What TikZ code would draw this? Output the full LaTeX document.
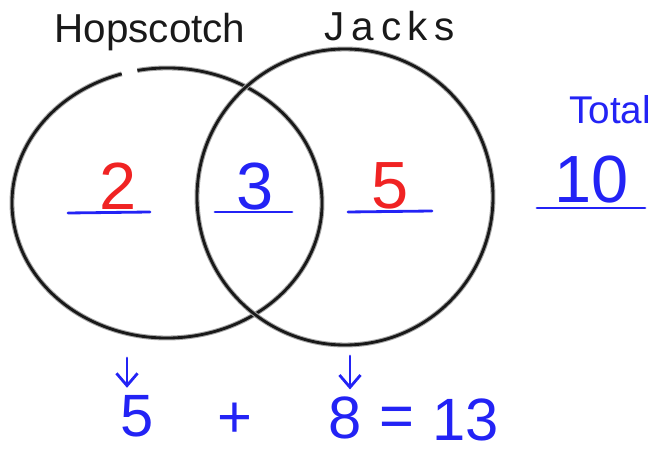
\documentclass[tikz,border=0pt]{standalone}
\usepackage{fontspec}
\setmainfont{Liberation Sans}
\usetikzlibrary{arrows.meta}
\definecolor{penblue}{RGB}{35,35,245}
\definecolor{penred}{RGB}{240,35,35}
\definecolor{penblack}{RGB}{25,25,25}
\tikzset{
  ring/.style={draw=penblack, line width=1.6pt, preaction={draw=gray!70, line width=2.8pt}},
  bline/.style={draw=penblue, line width=1.6pt, line cap=round},
  title/.style={text=penblack, font=\fontsize{23}{23}\selectfont},
  bignum/.style={font=\fontsize{38}{38}\selectfont, inner sep=1pt},
  sumnum/.style={text=penblue, font=\fontsize{34}{34}\selectfont, inner sep=1pt},
}
\begin{document}
\begin{tikzpicture}[x=0.02cm,y=-0.02cm]
\useasboundingbox (0,0) rectangle (670,455);
\coordinate (L) at (167,203);
\coordinate (R) at (345,197);
% the two sets
\draw [ring] ([shift={(-101:155 and 135)}]L) arc[start angle=-101, end angle=253, x radius=155, y radius=135];
\draw [ring] (R) circle [radius=148];
\node [title] (hop) at (150,32) {Hopscotch};
\node [title] (jacks) at (390,26) {J\,a\,c\,k\,s};
% counts in each part
\node [bignum, text=penred] (two) at (118,186) {2};
\node [bignum, text=penblue] (three) at (255,187) {3};
\node [bignum, text=penred] (five) at (390,186) {5};
\draw [bline] (68,213) -- (150,212);
\draw [bline] (215,212) -- (292,212);
\draw [bline] (348,212) -- (432,211);
% total
\node [text=penblue, font=\fontsize{22}{22}\selectfont] (tot) at (610,110) {Total};
\node [bignum, text=penblue] (ten) at (592,180) {10};
\draw [bline] (537,208) -- (645,208);
% sum below
\node [sumnum] (sa) at (137,416) {5};
\node [sumnum] (plus) at (235,420) {+};
\node [sumnum] (sb) at (345,418) {8};
\node [sumnum] (eq) at (397,422) {=};
\node [sumnum] (sum) at (466,420) {13};
\coordinate (a1) at (127,358);
\coordinate (a2) at (350,356);
\draw [bline, -{Straight Barb[length=7pt,width=12pt]}] (a1) -- ([yshift=3pt]a1 |- sa.north);
\draw [bline, -{Straight Barb[length=7pt,width=12pt]}] (a2) -- ([yshift=3pt]a2 |- sb.north);
\end{tikzpicture}
\end{document}
